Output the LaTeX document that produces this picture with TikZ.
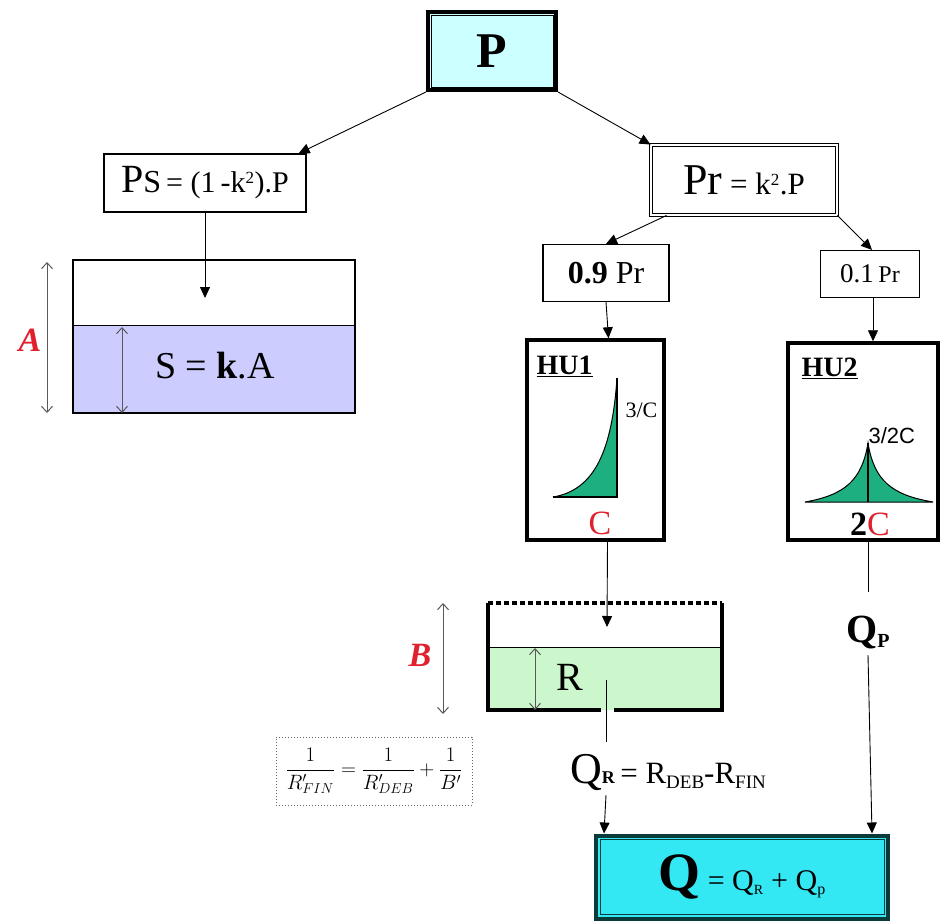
\documentclass[tikz,border=0pt]{standalone}
\usepackage{fontspec}
\setmainfont{Liberation Serif}
\newfontfamily\sansf{Liberation Sans}
\usetikzlibrary{arrows.meta,calc}
\definecolor{pcyan}{HTML}{CCFFFF}
\definecolor{sblue}{HTML}{CCCCFF}
\definecolor{rgreen}{HTML}{CCF7CC}
\definecolor{hugreen}{HTML}{1DAF80}
\definecolor{qcyan}{HTML}{33E8F2}
\definecolor{qdark}{HTML}{0A3A3A}
\definecolor{lred}{HTML}{E0202C}
\newcommand{\fs}[1]{\fontsize{#1}{#1}\selectfont}
\begin{document}
\begin{tikzpicture}[x=1pt,y=-1pt,
  box/.style={draw, inner sep=0pt, fill=white, line width=1.2pt},
  arr/.style={-{Triangle[length=11pt,width=10pt]}, line width=0.9pt},
  plain/.style={line width=0.9pt},
  dim/.style={{Straight Barb[length=6pt,width=11pt]}-{Straight Barb[length=6pt,width=11pt]}, black!65, line width=1pt},
  hu/.style={draw, line width=3.5pt, inner sep=0pt, fill=white},
  wall/.style={line width=3.5pt},
  curve/.style={fill=hugreen, draw=black, line width=1pt}]
\fill[white] (0,0) rectangle (941,920);
\useasboundingbox (0,0) rectangle (941,920);

% ---- boxes
\node[box, fill=pcyan, line width=4pt, minimum width=128pt, minimum height=78pt] (P) at (492,51) {};
\draw[line width=0.8pt] ([shift={(5,5)}]P.north west) rectangle ([shift={(-5,-5)}]P.south east);
\node at (P.center) {\fs{50}\bfseries P};

\node[box, minimum width=202pt, minimum height=58pt] (Ps) at (205,183)
  {\fs{40}P\fs{32}S\fs{30}\,= (1\,-k\textsuperscript{\fs{17}2}).P};

\node[box, draw=black, double=white, double distance=2.5pt, line width=0.9pt,
  minimum width=186pt, minimum height=70pt] (Pr) at (744,180)
  {\fs{44}Pr\fs{31} = k\textsuperscript{\fs{17}2}.P};

\node[box, minimum width=126pt, minimum height=57pt] (A09) at (606,273)
  {\fs{32}\textbf{0.9} Pr};
\node[box, minimum width=99pt, minimum height=47pt] (A01) at (870,274)
  {\fs{27}0.1\,\fs{24}Pr};

\node[hu, minimum width=137pt, minimum height=200pt] (HU1) at (595.5,440) {};
\node[hu, minimum width=150pt, minimum height=197pt] (HU2) at (863,441.5) {};

\node[draw=qdark, fill=qcyan, line width=4pt, inner sep=0pt, minimum width=292pt, minimum height=83pt] (Q) at (742,877) {};
\draw[qdark, line width=0.8pt] ([shift={(6,6)}]Q.north west) rectangle ([shift={(-6,-6)}]Q.south east);
\node at (Q.center) {\fs{54}\textbf{Q}\fs{30} = Q\textsubscript{\fs{14}R} + Q\textsubscript{\fs{16}p}};

% ---- HU1 content
\node[anchor=west] (hu1t) at (533,366) {\fs{28}\bfseries\underline{HU1}};
\fill[hugreen] (553,497) .. controls (595,490) and (612,450) .. (617,378) -- (617,497) -- cycle;
\draw[line width=1pt] (553,497) .. controls (595,490) and (612,450) .. (617,378);
\draw[line width=1.2pt] (617,378) -- (617,497) -- (553,497);
\node[anchor=west] (hu1l) at (622,410) {\fs{22}3/C};
\node (hu1c) at (600,523) {\fs{34}\color{lred}C};

% ---- HU2 content
\node[anchor=west] (hu2t) at (798,368) {\fs{28}\bfseries\underline{HU2}};
\fill[hugreen] (805,502) .. controls (845,495) and (862,480) .. (868,443) .. controls (874,480) and (891,495) .. (933,502) -- cycle;
\draw[line width=1pt] (805,502) .. controls (845,495) and (862,480) .. (868,443) .. controls (874,480) and (891,495) .. (933,502) -- cycle;
\draw[line width=2pt] (868,443) -- (868,502);
\node[anchor=west] (hu2l) at (865,436) {\fs{22}\sansf 3/2C};
\node (hu2c) at (870,524) {\fs{34}\textbf{2}\color{lred}C};

% ---- S tank
\fill[sblue] (73,325) rectangle (355,413);
\draw[line width=0.9pt] (73,325) -- (355,325);
\draw[line width=2.5pt] (73,260) rectangle (355,413);
\node (Stext) at (215,366) {\fs{38}S = \textbf{k}.A};
\draw[dim] (47,262) -- (47,413);
\node (Alab) at (30,340) {\fs{34}\color{lred}\bfseries\itshape A};
\draw[dim] (122,327) -- (122,413);

% ---- R tank
\fill[rgreen] (488,647) rectangle (722,710);
\draw[line width=1pt] (488,647) -- (722,647);
\draw[line width=3.5pt, dash pattern=on 5pt off 3pt] (488,603) -- (722,603);
\draw[wall] (488,603) -- (488,710) -- (601,710);
\draw[wall] (614,710) -- (722,710) -- (722,603);
\draw[dim] (443,603) -- (443,714);
\node (Blab) at (420,655) {\fs{34}\color{lred}\bfseries\itshape B};
\draw[dim] (535,648) -- (535,710);
\node (Rlab) at (570,677) {\fs{40}R};

% ---- formula
\node[draw=black!60, dotted, line width=1pt, inner sep=0pt, minimum width=196pt, minimum height=68pt] (form) at (374,771)
  {\fs{21}$\displaystyle\frac{1}{R'_{FIN}}=\frac{1}{R'_{DEB}}+\frac{1}{B'}$};

% ---- QR and Qp texts
\node (QR) at (668,772) {\fs{44}Q\fs{18}\textbf{R}\fs{31}\,= R\raisebox{-5pt}{\fs{19}DEB}-R\raisebox{-5pt}{\fs{19}FIN}};
\node (Qp) at (868,632) {\fs{40}\textbf{Q}\raisebox{-5pt}{\fs{20}\textbf{P}}};

% ---- connectors
\draw[arr] (P.south west) -- ([xshift=-8pt]Ps.north east);
\draw[arr] (P.south east) -- (Pr.north west);
\coordinate (Sin) at (205,298);
\draw[arr] (Ps.south) -- (Sin);
\draw[arr] ([xshift=16pt]Pr.south west) -- (A09.north);
\draw[arr] (Pr.south east) -- ([xshift=2pt]A01.north);
\draw[arr] (A09.south) -- ([xshift=13pt]HU1.north);
\draw[arr] ([xshift=3pt]A01.south) -- ([xshift=10pt]HU2.north);
\coordinate (Rin) at (607,627);
\draw[arr] ([xshift=12pt]HU1.south) -- (Rin);
\coordinate (Rout) at (606,680);
\coordinate (QRtop) at (606,742);
\coordinate (QRbot) at (606,795);
\draw[plain] (Rout) -- (QRtop);
\draw[arr] (QRbot) -- ([xshift=10pt]Q.north west);
\coordinate (Qptop) at (868,592);
\coordinate (Qpbot) at (868,655);
\draw[plain] ([xshift=5pt]HU2.south) -- (Qptop);
\draw[arr] (Qpbot) -- ([xshift=-18pt]Q.north east);
\end{tikzpicture}
\end{document}
